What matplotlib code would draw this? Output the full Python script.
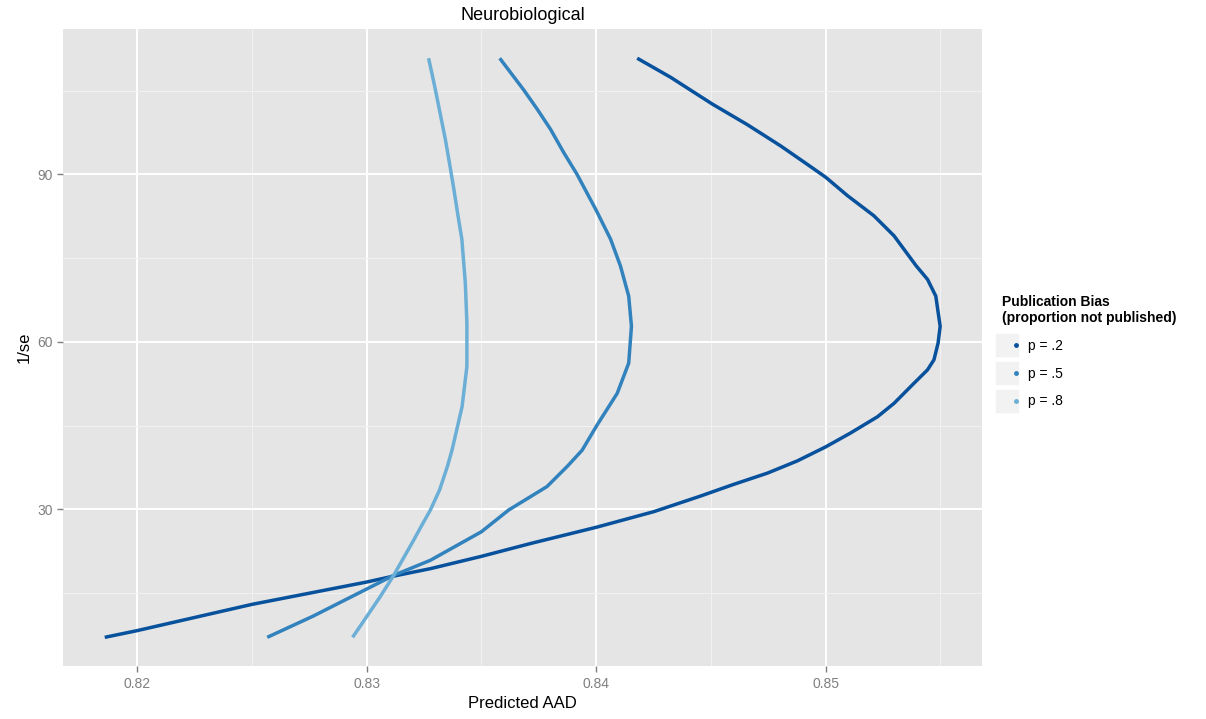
import numpy as np
import matplotlib.pyplot as plt
from matplotlib.lines import Line2D
from matplotlib.legend_handler import HandlerTuple

plt.rcParams['font.family'] = ['Liberation Sans', 'DejaVu Sans']

# values (Predicted AAD, 1/se), ordered by 1/se
x_p2 = [0.81859, 0.82000, 0.82500, 0.83000, 0.83110, 0.83278, 0.83500, 0.83714,
        0.84000, 0.84251, 0.84455, 0.84600, 0.84746, 0.84877, 0.85000, 0.85109,
        0.85226, 0.85298, 0.85385, 0.85444, 0.85472, 0.85490, 0.85499, 0.85480,
        0.85444, 0.85395, 0.85298, 0.85210, 0.85095, 0.85000, 0.84920, 0.84804,
        0.84659, 0.84506, 0.84324, 0.84179]
y_p2 = [7.1, 8.3, 13.0, 17.0, 18.0, 19.4, 21.6, 23.9,
        26.8, 29.6, 32.4, 34.5, 36.5, 38.7, 41.2, 43.7,
        46.6, 49.0, 52.6, 55.0, 56.8, 59.8, 62.8, 68.2,
        71.2, 73.6, 79.0, 82.6, 86.2, 89.5, 91.8, 95.1,
        98.9, 102.6, 107.4, 110.8]

x_p5 = [0.82567, 0.82767, 0.83118, 0.83278, 0.83500, 0.83619, 0.83786, 0.83874,
        0.83939, 0.84004, 0.84092, 0.84142, 0.84154, 0.84142, 0.84106, 0.84063,
        0.84000, 0.83917, 0.83859, 0.83801, 0.83743, 0.83685, 0.83580]
y_p5 = [7.1, 10.9, 18.2, 20.9, 26.0, 29.9, 34.1, 37.7,
        40.6, 45.1, 50.8, 56.2, 62.8, 68.2, 73.6, 78.4,
        83.6, 90.0, 93.9, 98.1, 101.7, 105.1, 110.8]

x_p8 = [0.82939, 0.83058, 0.83118, 0.83147, 0.83205, 0.83241, 0.83278, 0.83318,
        0.83352, 0.83372, 0.83416, 0.83437, 0.83437, 0.83430, 0.83415, 0.83397,
        0.83380, 0.83362, 0.83343, 0.83321, 0.83300, 0.83285, 0.83270]
y_p8 = [7.1, 14.3, 18.2, 20.3, 24.5, 27.2, 29.9, 33.5,
        37.7, 40.6, 48.4, 55.6, 63.4, 70.6, 78.4, 82.9,
        87.4, 91.8, 96.3, 100.8, 105.1, 108.0, 110.8]

labels = ['p = .2', 'p = .5', 'p = .8']
colors = ['#08519C', '#3182BD', '#6BAED6']

fig = plt.figure(figsize=(12.06, 7.19), dpi=100)
ax = fig.add_axes([0.0522, 0.0733, 0.762, 0.886])
ax.set_facecolor('#E5E5E5')

series = [(x_p2, y_p2), (x_p5, y_p5), (x_p8, y_p8)]
for (xs, ys), c in zip(series, colors):
    ax.plot(xs, ys, color=c, lw=2.5, solid_joinstyle='round',
            solid_capstyle='butt', zorder=3)

ax.margins(0.05)
ax.set_xticks([0.82, 0.83, 0.84, 0.85])
ax.set_xticklabels(['0.82', '0.83', '0.84', '0.85'])
ax.set_xticks([0.825, 0.835, 0.845, 0.855], minor=True)
ax.set_yticks([30, 60, 90])
ax.set_yticks([15, 45, 75, 105], minor=True)
ax.grid(which='major', color='white', lw=1.4, zorder=0)
ax.grid(which='minor', color='#F2F2F2', lw=0.7, zorder=0)
ax.set_axisbelow(True)
for s in ax.spines.values():
    s.set_visible(False)
ax.tick_params(which='major', length=4, color='#7F7F7F', labelcolor='#7F7F7F',
               labelsize=10, width=1)
ax.tick_params(which='minor', length=0)

ax.set_xlabel('Predicted AAD', fontsize=12)
ax.set_ylabel('1/se', fontsize=12)
ax.set_title('Neurobiological', fontsize=13, pad=7)

handles = []
for c in colors:
    bg = Line2D([], [], marker='s', ls='', markersize=16, color='#F2F2F2')
    dot = Line2D([], [], marker='o', ls='', markersize=2.5, color=c)
    handles.append((bg, dot))
leg = fig.legend(handles, labels, handler_map={tuple: HandlerTuple(ndivide=None, pad=0)},
                 title='Publication Bias\n(proportion not published)',
                 loc='upper left', bbox_to_anchor=(0.826, 0.598),
                 frameon=False, fontsize=10, title_fontsize=10,
                 handlelength=1.4, handletextpad=0.5, labelspacing=1.0,
                 borderaxespad=0)
leg.get_title().set_fontweight('bold')
leg._legend_box.align = 'left'

fig.savefig('out.png', dpi=100)
